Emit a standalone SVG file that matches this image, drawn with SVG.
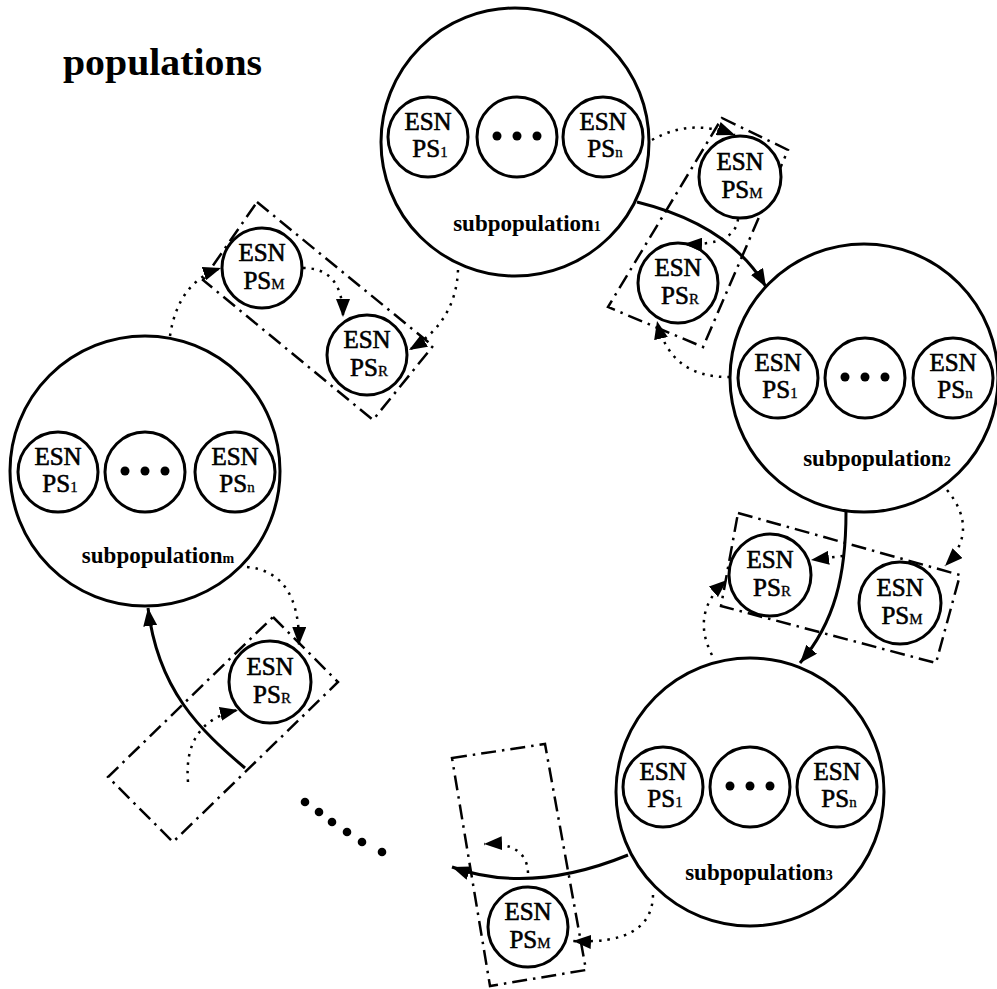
<svg xmlns="http://www.w3.org/2000/svg" width="997" height="989" viewBox="0 0 997 989">
<defs>
<style>
.big{fill:#fff;stroke:#000;stroke-width:3}
.sm{fill:#fff;stroke:#000;stroke-width:3}
.esn{font-family:"Liberation Serif","Times New Roman",serif;font-size:25px;text-anchor:middle;fill:#000;stroke:#000;stroke-width:0.6}
.sub{font-size:15px;stroke-width:0.3}
.lbl{font-family:"Liberation Serif","Times New Roman",serif;font-weight:bold;font-size:23px;text-anchor:middle;fill:#000}
.lsub{font-size:14px}
.solid{fill:none;stroke:#000;stroke-width:3;marker-end:url(#ah)}
.dot{fill:none;stroke:#000;stroke-width:2.5;stroke-dasharray:2.5 6;marker-end:url(#ah)}
.box{fill:none;stroke:#000;stroke-width:2.5;stroke-dasharray:15 6 2.5 6}
.title{font-family:"Liberation Serif","Times New Roman",serif;font-weight:bold;font-size:37px;fill:#000}
</style>
<marker id="ah" markerUnits="userSpaceOnUse" markerWidth="19" markerHeight="14" refX="18" refY="7" orient="auto" viewBox="0 0 19 14">
<path d="M0,0 L18,7 L0,14 z" fill="#000"/>
</marker>
</defs>
<rect width="997" height="989" fill="#fff"/>
<text class="title" x="63" y="75" textLength="199" lengthAdjust="spacingAndGlyphs">populations</text>

<!-- migration boxes -->
<g id="boxes">
<polygon class="box" points="722,118 788,150 703,347 608,307"/>
<polygon class="box" points="257,202 433,346 373,420 203,280"/>
<polygon class="box" points="738,513 960,575 936,663 721,606"/>
<polygon class="box" points="273,617 338,682 173,842 108,777"/>
<polygon class="box" points="452,758 545,744 586,970 490,986"/>
</g>

<!-- subpopulation 1 -->
<g id="subpop1">
<circle class="big" cx="515" cy="142" r="134"/>
<circle class="sm" cx="428" cy="137" r="40"/>
<text class="esn" x="428" y="130">ESN</text><text class="esn" x="430" y="157">PS<tspan class="sub">1</tspan></text>
<circle class="sm" cx="517" cy="137" r="40"/>
<circle cx="497" cy="136" r="4.5"/><circle cx="517" cy="136" r="4.5"/><circle cx="537" cy="136" r="4.5"/>
<circle class="sm" cx="603" cy="137" r="40"/>
<text class="esn" x="603" y="130">ESN</text><text class="esn" x="605" y="157">PS<tspan class="sub">n</tspan></text>
<text class="lbl" x="527" y="231">subpopulation<tspan class="lsub">1</tspan></text>
</g>

<!-- subpopulation 2 -->
<g id="subpop2">
<circle class="big" cx="864" cy="378" r="134"/>
<circle class="sm" cx="778" cy="378" r="40"/>
<text class="esn" x="778" y="371">ESN</text><text class="esn" x="780" y="398">PS<tspan class="sub">1</tspan></text>
<circle class="sm" cx="865" cy="378" r="40"/>
<circle cx="845" cy="377" r="4.5"/><circle cx="865" cy="377" r="4.5"/><circle cx="885" cy="377" r="4.5"/>
<circle class="sm" cx="953" cy="378" r="40"/>
<text class="esn" x="953" y="371">ESN</text><text class="esn" x="955" y="398">PS<tspan class="sub">n</tspan></text>
<text class="lbl" x="877" y="466">subpopulation<tspan class="lsub">2</tspan></text>
</g>

<!-- subpopulation 3 -->
<g id="subpop3">
<circle class="big" cx="750" cy="792" r="134"/>
<circle class="sm" cx="663" cy="787" r="40"/>
<text class="esn" x="663" y="780">ESN</text><text class="esn" x="665" y="807">PS<tspan class="sub">1</tspan></text>
<circle class="sm" cx="750" cy="787" r="40"/>
<circle cx="730" cy="786" r="4.5"/><circle cx="750" cy="786" r="4.5"/><circle cx="770" cy="786" r="4.5"/>
<circle class="sm" cx="837" cy="787" r="40"/>
<text class="esn" x="837" y="780">ESN</text><text class="esn" x="839" y="807">PS<tspan class="sub">n</tspan></text>
<text class="lbl" x="759" y="880">subpopulation<tspan class="lsub">3</tspan></text>
</g>

<!-- subpopulation m -->
<g id="subpopm">
<circle class="big" cx="145" cy="471" r="135"/>
<circle class="sm" cx="58" cy="472" r="40"/>
<text class="esn" x="58" y="465">ESN</text><text class="esn" x="60" y="492">PS<tspan class="sub">1</tspan></text>
<circle class="sm" cx="145" cy="472" r="40"/>
<circle cx="125" cy="471" r="4.5"/><circle cx="145" cy="471" r="4.5"/><circle cx="165" cy="471" r="4.5"/>
<circle class="sm" cx="235" cy="472" r="40"/>
<text class="esn" x="235" y="465">ESN</text><text class="esn" x="237" y="492">PS<tspan class="sub">n</tspan></text>
<text class="lbl" x="158" y="563">subpopulation<tspan class="lsub">m</tspan></text>
</g>

<!-- migration nodes -->
<g id="A-psm"><circle class="sm" cx="740" cy="177" r="41"/><text class="esn" x="740" y="170">ESN</text><text class="esn" x="742" y="198">PS<tspan class="sub">M</tspan></text></g>
<g id="A-psr"><circle class="sm" cx="678" cy="283" r="40"/><text class="esn" x="678" y="276">ESN</text><text class="esn" x="680" y="304">PS<tspan class="sub">R</tspan></text></g>
<g id="B-psm"><circle class="sm" cx="262" cy="268" r="40"/><text class="esn" x="262" y="261">ESN</text><text class="esn" x="264" y="289">PS<tspan class="sub">M</tspan></text></g>
<g id="B-psr"><circle class="sm" cx="367" cy="355" r="40"/><text class="esn" x="367" y="348">ESN</text><text class="esn" x="369" y="376">PS<tspan class="sub">R</tspan></text></g>
<g id="C-psr"><circle class="sm" cx="770" cy="575" r="41"/><text class="esn" x="770" y="568">ESN</text><text class="esn" x="772" y="596">PS<tspan class="sub">R</tspan></text></g>
<g id="C-psm"><circle class="sm" cx="900" cy="603" r="41"/><text class="esn" x="900" y="596">ESN</text><text class="esn" x="902" y="624">PS<tspan class="sub">M</tspan></text></g>
<g id="D-psr"><circle class="sm" cx="270" cy="682" r="41"/><text class="esn" x="270" y="675">ESN</text><text class="esn" x="272" y="703">PS<tspan class="sub">R</tspan></text></g>
<g id="E-psm"><circle class="sm" cx="528" cy="927" r="40"/><text class="esn" x="528" y="920">ESN</text><text class="esn" x="530" y="948">PS<tspan class="sub">M</tspan></text></g>

<!-- ellipsis -->
<g id="ellipsis">
<circle cx="305" cy="802" r="4.3"/><circle cx="319" cy="812" r="4.3"/><circle cx="332" cy="822" r="4.3"/>
<circle cx="347" cy="832" r="4.3"/><circle cx="362" cy="842" r="4.3"/><circle cx="382" cy="852" r="4.3"/>
</g>

<!-- connectors -->
<g id="connectors">
<path class="solid" d="M637,202 Q730,225 766,287"/>
<path class="solid" d="M846,512 C846,575 835,622 800,663"/>
<path class="solid" d="M628,855 Q530,895 452,867"/>
<path class="solid" d="M245,768 C200,730 158,690 148,608"/>
<path class="dot" d="M652,140 Q690,118 735,135"/>
<path class="dot" d="M738,219 Q735,246 684,244"/>
<path class="dot" d="M730,377 Q670,378 657,321"/>
<path class="dot" d="M170,336 Q178,282 221,268"/>
<path class="dot" d="M303,268 Q343,268 343,317"/>
<path class="dot" d="M458,270 Q456,322 409,350"/>
<path class="dot" d="M947,490 Q980,530 945,566"/>
<path class="dot" d="M843,556 L811,560"/>
<path class="dot" d="M712,655 Q690,612 727,580"/>
<path class="dot" d="M247,567 Q300,572 299,645"/>
<path class="dot" d="M188,782 Q183,722 238,710"/>
<path class="dot" d="M653,895 Q652,945 573,941"/>
<path class="dot" d="M528,873 Q527,842 484,844"/>
</g>
</svg>
